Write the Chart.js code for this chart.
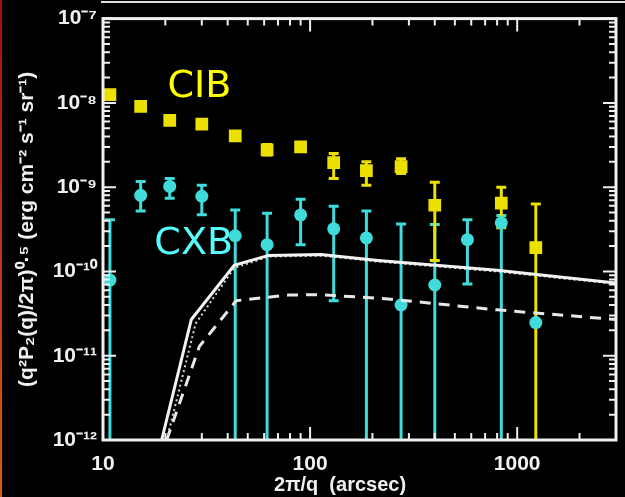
<!DOCTYPE html>
<html>
<head>
<meta charset="utf-8">
<script src="https://cdn.jsdelivr.net/npm/chart.js@4"></script>
<style>
    html, body { margin: 0; padding: 0; background: #000; }
    #wrap { position: relative; width: 625px; height: 497px; }
    #edge { position: absolute; left: 0; top: 0; width: 2px; height: 497px; background: linear-gradient(#a01010, #c04010 60%, #d06010); }
    #topline { position: absolute; left: 101px; top: 1px; width: 524px; height: 2px; background: #ddd; }
</style>
</head>
<body>
<div id="wrap">
    <canvas id="myChart" width="625" height="497"></canvas>
    <div id="edge"></div>
    <div id="topline"></div>
</div>
<script>
// angular scale 2pi/q (arcsec)
const angle = [10.8, 15.2, 21, 30, 43.5, 62, 90, 130, 187, 275, 400, 575, 838, 1230];

// CIB fluctuations and error bars
const cib = [1.25e-8, 9.1e-9, 6.2e-9, 5.6e-9, 4.05e-9, 2.77e-9, 3.0e-9, 1.95e-9, 1.57e-9, 1.75e-9, 6.1e-10, null, 6.45e-10, 1.92e-10];
const cibHi = [null, null, null, null, null, 3.2e-9, null, 2.5e-9, 2.0e-9, 2.17e-9, 1.14e-9, null, 9.96e-10, 6.3e-10];
const cibLo = [null, null, null, null, null, 2.4e-9, null, 1.27e-9, 1.05e-9, 1.45e-9, 1.35e-10, null, 3.3e-10, 1e-13];

// CXB fluctuations and error bars
const cxb = [7.9e-11, 8.0e-10, 1.02e-9, 7.8e-10, 2.65e-10, 2.08e-10, 4.68e-10, 3.2e-10, 2.5e-10, 4.0e-11, 6.9e-11, 2.38e-10, 3.77e-10, 2.47e-11];
const cxbHi = [4.1e-10, 1.17e-9, 1.27e-9, 1.05e-9, 5.35e-10, 4.9e-10, 7.2e-10, 5.95e-10, 5.2e-10, 3.66e-10, 3.6e-10, 4.1e-10, 4.6e-10, null];
const cxbLo = [1e-13, 5.2e-10, 7.4e-10, 4.7e-10, 1e-13, 1e-13, 2.08e-10, 4.5e-11, 1e-13, 1e-13, 1e-13, 7.1e-11, 1e-13, null];

// model curves
const solidX = [19.2, 26.7, 43, 63, 113, 213, 800, 3000];
const solidY = [1e-12, 2.69e-11, 1.18e-10, 1.55e-10, 1.59e-10, 1.35e-10, 1.03e-10, 7.3e-11];
const dottedX = [20.3, 28, 43, 63, 113, 213, 800, 3000];
const dottedY = [1e-12, 2.4e-11, 1.1e-10, 1.5e-10, 1.54e-10, 1.31e-10, 1.0e-10, 7.1e-11];
const dashedX = [20.3, 29.2, 44, 79, 113, 238, 800, 3000];
const dashedY = [1e-12, 1.29e-11, 4.5e-11, 5.26e-11, 5.3e-11, 4.72e-11, 3.5e-11, 2.69e-11];

const xTicks = [10, 100, 1000];
const yTicks = [1e-12, 1e-11, 1e-10, 1e-9, 1e-8, 1e-7];

// text labels in data coordinates
const labels = [
    {text: 'CIB', x: 20.5, y: 1.16e-8, color: '#ffff00'},
    {text: 'CXB', x: 17.7, y: 1.59e-10, color: '#55ffff'},
];

const YELLOW = '#ece000';
const CYAN = '#40dcdc';

const sup = {'-': '\u207B', '0': '\u2070', '1': '\u00B9', '2': '\u00B2', '3': '\u00B3', '4': '\u2074',
    '5': '\u2075', '6': '\u2076', '7': '\u2077', '8': '\u2078', '9': '\u2079'};
const power = (v) => {
    const e = String(Math.round(Math.log10(v)));
    if (e === '1') return '10';
    return '10' + e.split('').map(c => sup[c]).join('');
};

const pts = (xs, ys) => xs.map((x, i) => ({x: x, y: ys[i]}));

const errorBars = {
    id: 'errorBars',
    beforeDatasetsDraw(chart) {
        const ctx = chart.ctx;
        const xs = chart.scales.x, ys = chart.scales.y;
        const area = chart.chartArea;
        ctx.save();
        ctx.beginPath();
        ctx.rect(area.left, area.top, area.right - area.left, area.bottom - area.top);
        ctx.clip();
        const draw = (hi, lo, color) => {
            ctx.strokeStyle = color;
            ctx.lineWidth = 3;
            angle.forEach((a, i) => {
                if (hi[i] == null) return;
                const px = xs.getPixelForValue(a);
                const top = ys.getPixelForValue(hi[i]);
                const bot = ys.getPixelForValue(lo[i]);
                ctx.beginPath();
                ctx.moveTo(px, top);
                ctx.lineTo(px, bot);
                ctx.moveTo(px - 5, top);
                ctx.lineTo(px + 5, top);
                ctx.moveTo(px - 5, bot);
                ctx.lineTo(px + 5, bot);
                ctx.stroke();
            });
        };
        draw(cxbHi, cxbLo, CYAN);
        draw(cibHi, cibLo, YELLOW);
        ctx.restore();
    }
};

const frameAndTicks = {
    id: 'frameAndTicks',
    afterDraw(chart) {
        const ctx = chart.ctx;
        const a = chart.chartArea;
        const xs = chart.scales.x, ys = chart.scales.y;
        ctx.save();
        ctx.strokeStyle = '#f0f0f0';
        ctx.lineWidth = 2;
        const tickSet = (lo, hi) => {
            const out = [];
            for (let e = Math.floor(Math.log10(lo)); e <= Math.ceil(Math.log10(hi)); e++) {
                for (let m = 1; m < 10; m++) {
                    const v = m * Math.pow(10, e);
                    if (v >= lo * 0.999 && v <= hi * 1.001) out.push({v: v, major: m === 1});
                }
            }
            return out;
        };
        tickSet(xs.min, xs.max).forEach(t => {
            const px = xs.getPixelForValue(t.v);
            const len = t.major ? 13 : 7;
            ctx.beginPath();
            ctx.moveTo(px, a.bottom);
            ctx.lineTo(px, a.bottom - len);
            ctx.moveTo(px, a.top);
            ctx.lineTo(px, a.top + len);
            ctx.stroke();
        });
        tickSet(ys.min, ys.max).forEach(t => {
            const py = ys.getPixelForValue(t.v);
            const len = t.major ? 13 : 7;
            ctx.beginPath();
            ctx.moveTo(a.left, py);
            ctx.lineTo(a.left + len, py);
            ctx.moveTo(a.right, py);
            ctx.lineTo(a.right - len, py);
            ctx.stroke();
        });
        ctx.lineWidth = 3;
        ctx.strokeRect(a.left, a.top, a.right - a.left, a.bottom - a.top);

        // CIB / CXB labels
        ctx.font = '38px "DejaVu Sans"';
        ctx.textBaseline = 'alphabetic';
        ctx.textAlign = 'left';
        labels.forEach(l => {
            ctx.fillStyle = l.color;
            ctx.fillText(l.text, xs.getPixelForValue(l.x), ys.getPixelForValue(l.y));
        });
        ctx.restore();
    }
};

const ctx = document.getElementById('myChart').getContext('2d');
const chart = new Chart(ctx, {
    type: 'scatter',
    data: {
        datasets: [
            {
                label: 'model',
                data: pts(solidX, solidY),
                showLine: true,
                borderColor: '#f2f2f2',
                borderWidth: 3,
                pointRadius: 0,
            },
            {
                label: 'model dotted',
                data: pts(dottedX, dottedY),
                showLine: true,
                borderColor: '#d8d8d8',
                borderWidth: 2,
                borderDash: [2, 3],
                pointRadius: 0,
            },
            {
                label: 'model dashed',
                data: pts(dashedX, dashedY),
                showLine: true,
                borderColor: '#e8e8e8',
                borderWidth: 3,
                borderDash: [11, 8],
                pointRadius: 0,
            },
            {
                label: 'CIB',
                data: pts(angle, cib),
                pointStyle: 'rect',
                pointRadius: 9,
                backgroundColor: YELLOW,
                borderColor: YELLOW,
                borderWidth: 0,
            },
            {
                label: 'CXB',
                data: pts(angle, cxb),
                pointStyle: 'circle',
                pointRadius: 6.5,
                backgroundColor: CYAN,
                borderColor: CYAN,
                borderWidth: 0,
            }
        ]
    },
    options: {
        responsive: false,
        animation: false,
        layout: {padding: {left: 0, right: 3, top: 13, bottom: 0}},
        plugins: {
            legend: {display: false},
            tooltip: {enabled: false},
        },
        scales: {
            x: {
                type: 'logarithmic',
                min: 10,
                max: 3000,
                grid: {display: false, drawTicks: false},
                border: {display: false},
                afterBuildTicks: (s) => { s.ticks = xTicks.map(v => ({value: v})); },
                afterFit: (s) => { s.height = 57; },
                ticks: {
                    color: '#f0f0f0',
                    padding: 12,
                    maxRotation: 0,
                    font: {family: 'Liberation Sans', weight: 'bold', size: 21},
                    callback: (v) => String(v),
                },
                title: {
                    display: true,
                    // trailing spaces keep the title a little left of the axis centre
                    text: '2\u03C0/q  (arcsec)\u00A0\u00A0\u00A0\u00A0\u00A0\u00A0\u00A0',
                    color: '#f0f0f0',
                    font: {family: 'Liberation Sans', weight: 'bold', size: 20},
                    padding: {top: 0, bottom: 0},
                },
            },
            y: {
                type: 'logarithmic',
                min: 1e-12,
                max: 1e-7,
                grid: {display: false, drawTicks: false},
                border: {display: false},
                afterBuildTicks: (s) => { s.ticks = yTicks.map(v => ({value: v})); },
                afterFit: (s) => { s.width = 103; },
                ticks: {
                    color: '#f0f0f0',
                    padding: 6,
                    font: {family: 'Liberation Sans', weight: 'bold', size: 21},
                    callback: (v) => power(v),
                },
                title: {
                    display: true,
                    text: '(q\u00B2P\u2082(q)/2\u03C0)\u2070\u00B7\u2075 (erg cm\u207B\u00B2 s\u207B\u00B9 sr\u207B\u00B9)',
                    color: '#f0f0f0',
                    font: {family: 'Liberation Sans', weight: 'bold', size: 21},
                    padding: {top: 15, bottom: 0},
                },
            }
        }
    },
    plugins: [errorBars, frameAndTicks]
});
</script>
</body>
</html>
